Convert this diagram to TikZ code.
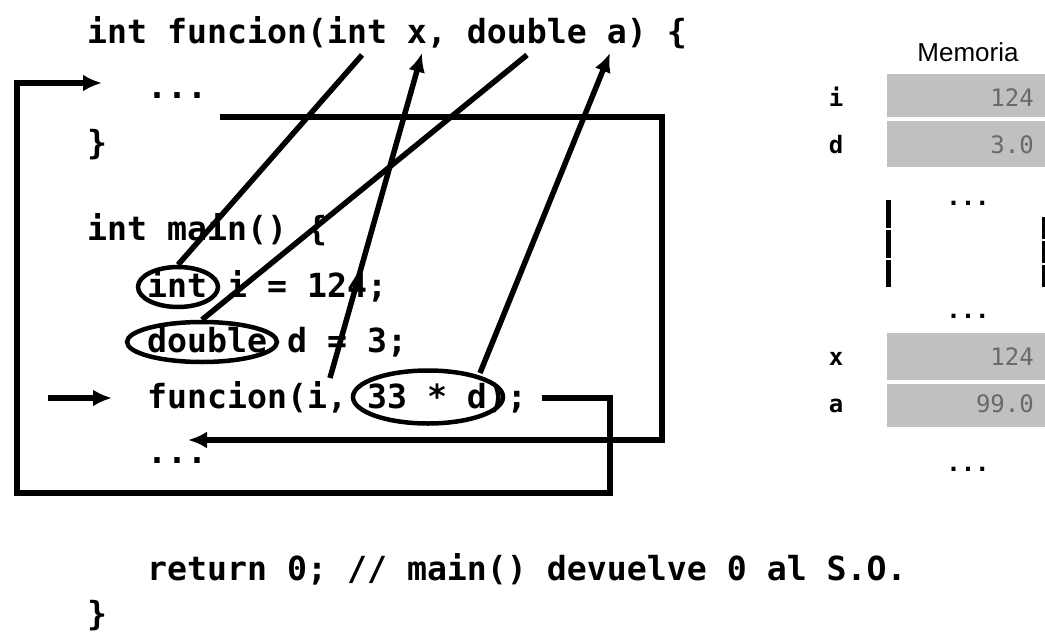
\documentclass[tikz,border=0pt]{standalone}
\usepackage{fontspec}
\setmainfont{Liberation Sans}
\newfontfamily\codefont{DejaVu Sans Mono}
\usetikzlibrary{arrows.meta,shapes.geometric}
\definecolor{memgray}{RGB}{192,192,192}
\definecolor{valgray}{RGB}{105,105,105}
\tikzset{
  code/.style={anchor=base west, inner sep=0pt, font=\codefont\bfseries\fontsize{33.2}{40}\selectfont},
  conn/.style={line width=5.5pt, black},
  tipped/.style={-{Latex[length=19pt,width=17pt]}},
  oval/.style={draw, ellipse, line width=4.5pt, inner sep=0pt},
  memcell/.style={fill=memgray, draw=none},
  memval/.style={anchor=base east, inner sep=0pt, font=\codefont\fontsize{24}{28}\selectfont, text=valgray},
  memlab/.style={anchor=base, inner sep=0pt, font=\codefont\bfseries\fontsize{24}{28}\selectfont},
  memdots/.style={anchor=base, inner sep=0pt, font=\codefont\bfseries\fontsize{24}{28}\selectfont},
  memtitle/.style={anchor=center, inner sep=0pt, font=\fontsize{26}{30}\selectfont}
}
\begin{document}
\begin{tikzpicture}[x=1pt,y=-1pt]
\fill[white] (0,0) rectangle (1045,632);
\useasboundingbox (0,0) rectangle (1045,632);

% code lines
\node[code] (l1) at (87,43) {int funcion(int x, double a) \{};
\node[code] (l2) at (147,98) {...};
\node[code] (l3) at (87,154) {\}};
\node[code] (l5) at (87,240) {int main() \{};
\node[code] (l6) at (147,297) {int i = 124;};
\node[code] (l7) at (147,352) {double d = 3;};
\node[code] (l8) at (147,408) {funcion(i, 33 * d);};
\node[code] (l9) at (147,463) {...};
\node[code] (l10) at (147,580) {return 0; // main() devuelve 0 al S.O.};
\node[code] (l11) at (87,625) {\}};

% ovals
\node[oval, minimum width=80pt, minimum height=40pt] (eint) at (178,287) {};
\node[oval, minimum width=150pt, minimum height=40pt] (edbl) at (202,342) {};
\node[oval, minimum width=150pt, minimum height=53pt] (e33) at (428,397) {};

% endpoints
\coordinate (pint) at (362,55);
\coordinate (px) at (422,53);
\coordinate (pdbl) at (527,55);
\coordinate (pa) at (610,53);
\coordinate (si) at (330,378);
\coordinate (s33) at (480,373);

\draw[conn] (eint.north) -- (pint);
\draw[conn] (edbl.north) -- (pdbl);
\draw[conn, tipped] (si) -- (px);
\draw[conn, tipped] (s33) -- (pa);

% call loop
\coordinate (c1) at (542,398);
\coordinate (c2) at (610,398);
\coordinate (c3) at (610,493);
\coordinate (c4) at (17,493);
\coordinate (c5) at (17,83);
\coordinate (c6) at (102,83);
\draw[conn, tipped] (c1) -- (c2) -- (c3) -- (c4) -- (c5) -- (c6);

% return loop
\coordinate (r1) at (220,117);
\coordinate (r2) at (662,117);
\coordinate (r3) at (662,440);
\coordinate (r4) at (188,440);
\draw[conn, tipped] (r1) -- (r2) -- (r3) -- (r4);

% current-line arrow
\coordinate (a1) at (48,398);
\coordinate (a2) at (112,398);
\draw[conn, tipped] (a1) -- (a2);

% memory
\node[memtitle] (mt) at (968,52) {Memoria};
\fill[memcell] (887,74) rectangle (1045,117);
\fill[memcell] (887,121) rectangle (1045,167);
\fill[memcell] (887,333) rectangle (1045,380);
\fill[memcell] (887,384) rectangle (1045,427);
\node[memval] (v1) at (1034,106) {124};
\node[memval] (v2) at (1034,153) {3.0};
\node[memval] (v3) at (1034,365) {124};
\node[memval] (v4) at (1034,412) {99.0};
\node[memlab] (n1) at (836,106) {i};
\node[memlab] (n2) at (836,153) {d};
\node[memlab] (n3) at (836,365) {x};
\node[memlab] (n4) at (836,412) {a};
\node[memdots] (d1) at (968,205) {...};
\node[memdots] (d2) at (968,318) {...};
\node[memdots] (d3) at (968,471) {...};
\draw[line width=5pt, dash pattern=on 28pt off 2pt] (888,200) -- (888,287);
\draw[line width=3pt, dash pattern=on 22pt off 2pt] (1043,217) -- (1043,287);
\end{tikzpicture}
\end{document}
